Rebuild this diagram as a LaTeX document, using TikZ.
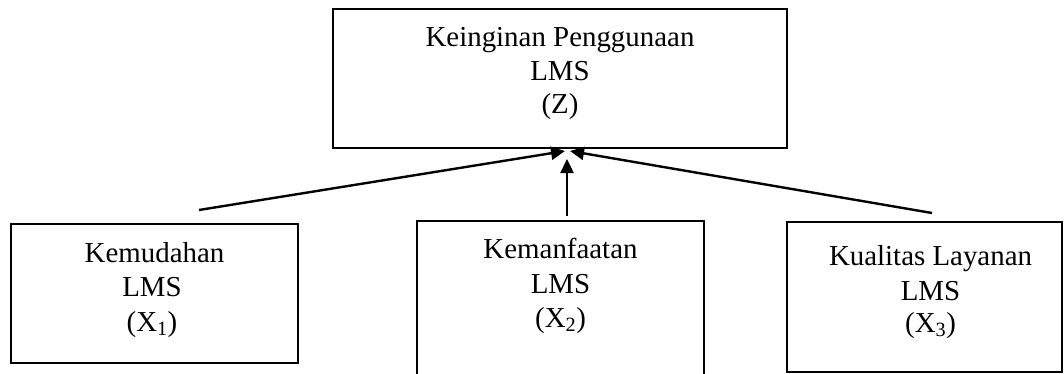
\documentclass[tikz,border=0pt]{standalone}
\usepackage{fontspec}
\setmainfont{Liberation Serif}
\usetikzlibrary{arrows.meta}
\tikzset{
  box/.style={draw, line width=2.2pt, inner sep=0pt, rectangle},
  txt/.style={anchor=base, inner sep=0pt, font=\fontsize{28.9}{33.5}\selectfont},
  link/.style={line width=2.4pt, -{Triangle[length=14pt,width=13pt]}}
}
\begin{document}
\begin{tikzpicture}[x=1pt,y=-1pt]
\useasboundingbox (0,0) rectangle (1064,374);

% boxes
\node[box, minimum width=454pt, minimum height=139pt] (z)  at (560,78.5) {};
\node[box, minimum width=287pt, minimum height=139pt] (x1) at (154.5,293.5) {};
\node[box, minimum width=287pt, minimum height=155pt] (x2) at (560.5,298.5) {};
\node[box, minimum width=275pt, minimum height=150pt] (x3) at (924.5,297) {};

% texts
\node[txt] (zA) at (560,47)  {Keinginan Penggunaan};
\node[txt] (zB) at (560,81)  {LMS};
\node[txt] (zC) at (560,114) {(Z)};

\node[txt] (x1A) at (154.5,262.7) {Kemudahan};
\node[txt] (x1B) at (152,296.7)   {LMS};
\node[txt] (x1C) at (152,331)     {(X\textsubscript{1})};

\node[txt] (x2A) at (560.5,258.3) {Kemanfaatan};
\node[txt] (x2B) at (560.5,293)   {LMS};
\node[txt] (x2C) at (560.5,327)   {(X\textsubscript{2})};

\node[txt] (x3A) at (930.5,265) {Kualitas Layanan};
\node[txt] (x3B) at (930.5,300) {LMS};
\node[txt] (x3C) at (930.5,332) {(X\textsubscript{3})};

% connector ends
\coordinate (s1) at (199,210);
\coordinate (e1) at (565,151);
\coordinate (s2) at (567,216);
\coordinate (e2) at (567,159);
\coordinate (s3) at (932,213);
\coordinate (e3) at (570,151);

% connectors
\draw[link] (s1) -- (e1);
\draw[link] (s2) -- (e2);
\draw[link] (s3) -- (e3);
\end{tikzpicture}
\end{document}
